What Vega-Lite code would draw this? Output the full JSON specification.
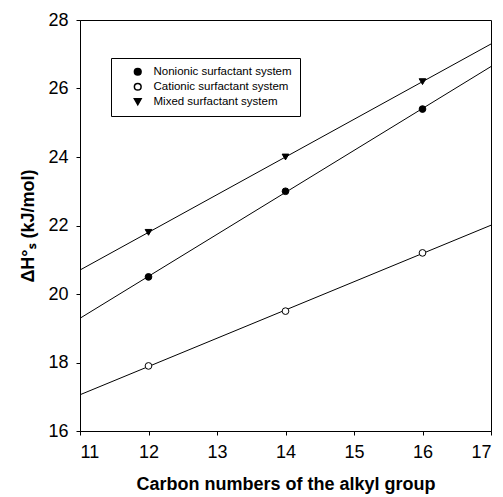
{
  "$schema": "https://vega.github.io/schema/vega-lite/v6.json",
  "autosize": "none",
  "width": 411,
  "height": 411,
  "padding": {"left": 80, "top": 20, "right": 12, "bottom": 66},
  "background": "white",
  "config": {
    "font": "Liberation Sans",
    "view": {"stroke": "black", "strokeWidth": 1},
    "axis": {
      "grid": false,
      "domainColor": "black",
      "tickColor": "black",
      "tickSize": 4,
      "labelFont": "Liberation Sans",
      "labelFontSize": 18,
      "labelColor": "black",
      "titleFont": "Liberation Sans",
      "titleFontSize": 18,
      "titleFontWeight": "bold",
      "titleColor": "black"
    },
    "legend": {
      "title": null,
      "fillColor": "white",
      "strokeColor": "black",
      "padding": 8,
      "symbolOffset": 13,
      "labelOffset": 10,
      "labelFontSize": 11.5,
      "labelFont": "Liberation Sans",
      "labelColor": "black",
      "symbolSize": 45,
      "rowPadding": 1
    }
  },
  "data": {
    "values": [
      {"carbon": 12, "dh": 20.5, "series": "Nonionic surfactant system"},
      {"carbon": 14, "dh": 23.0, "series": "Nonionic surfactant system"},
      {"carbon": 16, "dh": 25.4, "series": "Nonionic surfactant system"},
      {"carbon": 12, "dh": 17.9, "series": "Cationic surfactant system"},
      {"carbon": 14, "dh": 19.5, "series": "Cationic surfactant system"},
      {"carbon": 16, "dh": 21.2, "series": "Cationic surfactant system"},
      {"carbon": 12, "dh": 21.8, "series": "Mixed surfactant system"},
      {"carbon": 14, "dh": 24.0, "series": "Mixed surfactant system"},
      {"carbon": 16, "dh": 26.2, "series": "Mixed surfactant system"}
    ]
  },
  "layer": [
    {
      "transform": [
        {"regression": "dh", "on": "carbon", "groupby": ["series"], "extent": [11, 17]}
      ],
      "mark": {"type": "line", "color": "black", "strokeWidth": 1},
      "encoding": {
        "x": {"field": "carbon", "type": "quantitative"},
        "y": {"field": "dh", "type": "quantitative"},
        "detail": {"field": "series"}
      }
    },
    {
      "mark": {"type": "point", "filled": true, "stroke": "black", "strokeWidth": 1, "size": 45, "opacity": 1},
      "encoding": {
        "x": {
          "field": "carbon",
          "type": "quantitative",
          "scale": {"domain": [11, 17], "nice": false, "zero": false},
          "axis": {"values": [11, 12, 13, 14, 15, 16, 17], "format": "d", "labelPadding": 8, "titlePadding": 14},
          "title": "Carbon numbers of the alkyl group"
        },
        "y": {
          "field": "dh",
          "type": "quantitative",
          "scale": {"domain": [16, 28], "nice": false, "zero": false},
          "axis": {"values": [16, 18, 20, 22, 24, 26, 28], "format": "d", "labelPadding": 8, "titlePadding": 10},
          "title": "ΔH°ₛ (kJ/mol)"
        },
        "shape": {
          "field": "series",
          "type": "nominal",
          "scale": {
            "domain": ["Nonionic surfactant system", "Cationic surfactant system", "Mixed surfactant system"],
            "range": ["circle", "circle", "triangle-down"]
          },
          "legend": {
            "orient": "none",
            "legendX": 31,
            "legendY": 38,
            "encode": {
              "symbols": {"update": {"stroke": {"value": "black"}, "strokeWidth": {"value": 1}}}
            }
          }
        },
        "fill": {
          "field": "series",
          "type": "nominal",
          "scale": {
            "domain": ["Nonionic surfactant system", "Cationic surfactant system", "Mixed surfactant system"],
            "range": ["black", "white", "black"]
          },
          "legend": {
            "orient": "none",
            "legendX": 31,
            "legendY": 38,
            "encode": {
              "symbols": {"update": {"stroke": {"value": "black"}, "strokeWidth": {"value": 1}}}
            }
          }
        }
      }
    }
  ]
}
